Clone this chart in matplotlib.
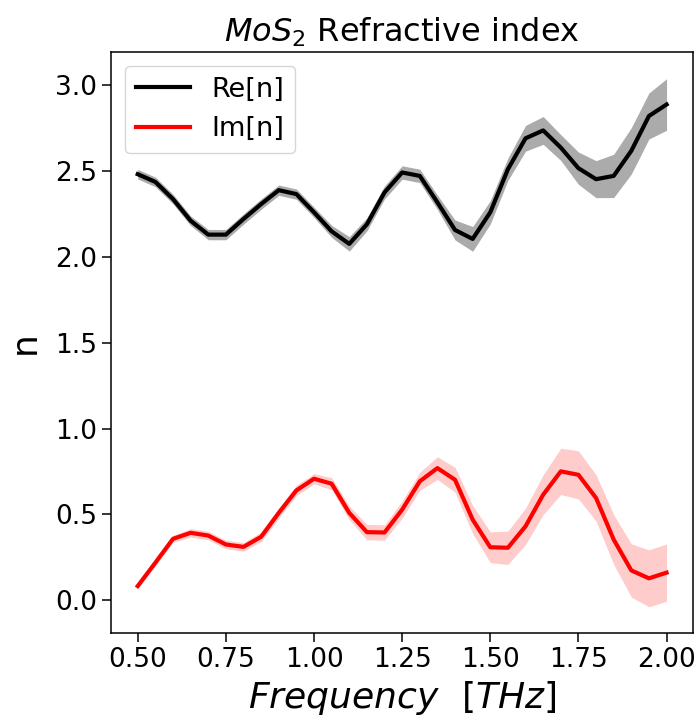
import numpy as np
import matplotlib
matplotlib.use("Agg")
import matplotlib.pyplot as plt

freq = [0.50, 0.55, 0.60, 0.65, 0.70, 0.75, 0.80, 0.85, 0.90, 0.95,
        1.00, 1.05, 1.10, 1.15, 1.20, 1.25, 1.30, 1.35, 1.40, 1.45,
        1.50, 1.55, 1.60, 1.65, 1.70, 1.75, 1.80, 1.85, 1.90, 1.95, 2.00]

re_n = [2.482, 2.437, 2.337, 2.211, 2.130, 2.130, 2.221, 2.308, 2.389, 2.366,
        2.260, 2.149, 2.076, 2.190, 2.376, 2.492, 2.472, 2.318, 2.157, 2.105,
        2.260, 2.511, 2.691, 2.737, 2.637, 2.517, 2.453, 2.472, 2.618, 2.821, 2.888]
re_err = [0.028, 0.028, 0.028, 0.028, 0.030, 0.030, 0.030, 0.030, 0.030, 0.030,
          0.030, 0.035, 0.042, 0.038, 0.038, 0.039, 0.039, 0.042, 0.058, 0.072,
          0.068, 0.065, 0.075, 0.081, 0.075, 0.094, 0.108, 0.126, 0.135, 0.134, 0.150]

im_n = [0.083, 0.219, 0.358, 0.393, 0.377, 0.325, 0.311, 0.370, 0.509, 0.640,
        0.708, 0.679, 0.509, 0.397, 0.395, 0.528, 0.693, 0.770, 0.702, 0.470,
        0.309, 0.306, 0.431, 0.615, 0.751, 0.731, 0.596, 0.354, 0.174, 0.128, 0.161]
im_err = [0.015, 0.018, 0.020, 0.025, 0.025, 0.025, 0.025, 0.028, 0.030, 0.030,
          0.030, 0.035, 0.040, 0.045, 0.045, 0.050, 0.053, 0.066, 0.073, 0.082,
          0.090, 0.097, 0.106, 0.116, 0.135, 0.140, 0.135, 0.145, 0.155, 0.166, 0.167]

x = np.array(freq)
re = np.array(re_n); rerr = np.array(re_err)
im = np.array(im_n); ierr = np.array(im_err)

fig, ax = plt.subplots(figsize=(7.0, 7.27), dpi=100)
fig.subplots_adjust(left=0.159, right=0.99, top=0.928, bottom=0.129)

ax.fill_between(x, re - rerr, re + rerr, color='black', alpha=0.33, linewidth=0)
ax.plot(x, re, color='black', linewidth=3, label='Re[n]')
ax.fill_between(x, im - ierr, im + ierr, color='red', alpha=0.2, linewidth=0)
ax.plot(x, im, color='red', linewidth=3, label='Im[n]')

ax.set_title(r'$MoS_2$ Refractive index', fontsize=23, pad=8)
ax.set_xlabel(r'$Frequency\ \ [THz]$', fontsize=26, labelpad=4)
ax.set_ylabel('n', fontsize=26, labelpad=10)
ax.tick_params(labelsize=19, width=1.1, length=6.5)
for s in ax.spines.values():
    s.set_linewidth(1.1)
ax.set_xticks([0.5, 0.75, 1.0, 1.25, 1.5, 1.75, 2.0])
ax.set_yticks([0.0, 0.5, 1.0, 1.5, 2.0, 2.5, 3.0])
ax.legend(loc='upper left', fontsize=19.5)

fig.savefig('out.png', dpi=100)
